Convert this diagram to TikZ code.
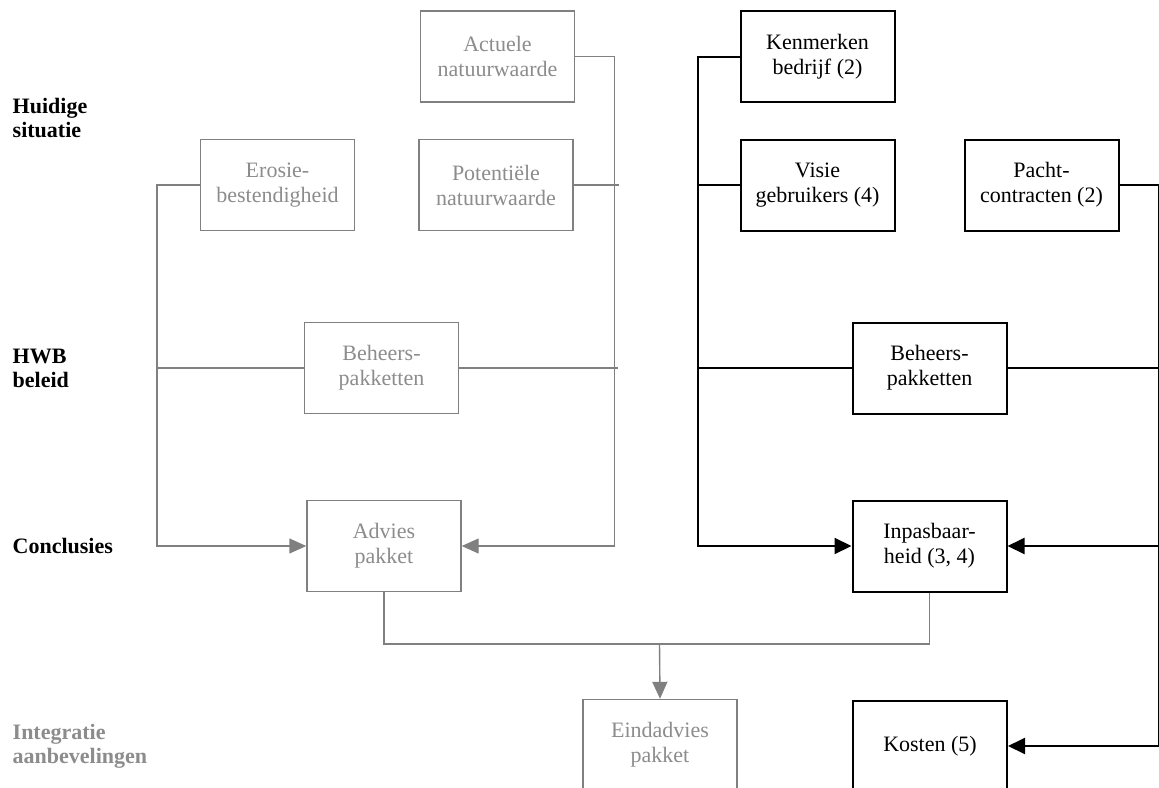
\documentclass[tikz,border=0pt]{standalone}
\usepackage{fontspec}
\setmainfont{Liberation Serif}
\usetikzlibrary{arrows.meta}
\definecolor{gl}{HTML}{808080}
\definecolor{gt}{HTML}{8C8C8C}
\begin{document}
\begin{tikzpicture}[x=1pt,y=-1pt,
  font=\fontsize{22}{25}\selectfont,
  gbox/.style={draw=gl,line width=1.4pt,text=gt,minimum width=154pt,minimum height=91pt,inner sep=0pt,align=center},
  bbox/.style={draw=black,line width=2pt,minimum width=154pt,minimum height=91pt,inner sep=0pt,align=center},
  gline/.style={draw=gl,line width=1.4pt},
  bline/.style={draw=black,line width=2pt},
  garr/.style={gline,-{Triangle[length=17pt,width=15pt]}},
  barr/.style={bline,-{Triangle[length=17pt,width=16pt]}},
  lab/.style={anchor=base west,inner sep=0pt,font=\fontsize{22}{25}\selectfont\bfseries},
]
\useasboundingbox (0,0) rectangle (1159,787);
\clip (0,0) rectangle (1159,787);

% left labels
\node[lab] (h1) at (12.5,113) {Huidige};
\node[lab] (h2) at (12.5,137) {situatie};
\node[lab] (w1) at (12.5,363) {HWB};
\node[lab] (w2) at (12.5,387) {beleid};
\node[lab] (c1) at (12.5,553) {Conclusies};
\node[lab,text=gt] (i1) at (12.5,739) {Integratie};
\node[lab,text=gt] (i2) at (12.5,763) {aanbevelingen};

% grey boxes
\node[gbox] (act) at (497.5,56.5) {Actuele\\natuurwaarde};
\node[gbox] (ero) at (277.5,185) {Erosie-\\bestendigheid};
\node[gbox] (pot) at (496,185) {Potentiële\\natuurwaarde};
\node[gbox] (bhg) at (381.5,368) {Beheers-\\pakketten};
\node[gbox] (adv) at (384,546) {Advies\\pakket};
\node[gbox] (eind) at (660,745) {Eindadvies\\pakket};

% black boxes
\node[bbox] (ken) at (817.5,56.5) {Kenmerken\\bedrijf (2)};
\node[bbox] (vis) at (817.5,185) {Visie\\gebruikers (4)};
\node[bbox] (pac) at (1041.5,185) {Pacht-\\contracten (2)};
\node[bbox] (bhb) at (929.5,368) {Beheers-\\pakketten};
\node[bbox] (inp) at (929.5,546) {Inpasbaar-\\heid (3, 4)};
\node[bbox] (kos) at (930,746) {Kosten (5)};

% grey connectors
\draw[garr] (act.east) -- ++(39,0) |- (adv.east);
\draw[gline] (pot.east) -- ++(45,0);
\draw[garr] (ero.west) -- ++(-43,0) |- (adv.west);
\draw[gline] (bhg.west) -- ++(-146,0);
\draw[gline] (bhg.east) -- ++(159,0);
\coordinate (j) at (659.5,644);
\draw[gline] (adv.south) |- (j) -| (inp.south);
\draw[garr] (j) -- (eind.north);

% black connectors
\draw[barr] (ken.west) -- ++(-42,0) |- (inp.west);
\draw[bline] (vis.west) -- ++(-42,0);
\draw[barr] (pac.east) -- ++(39,0) |- (kos.east);
\coordinate (rr) at (1157.5,546);
\draw[barr] (rr) -- (inp.east);
\draw[bline] (bhb.west) -- ++(-153,0);
\draw[bline] (bhb.east) -- ++(150,0);
\end{tikzpicture}
\end{document}
